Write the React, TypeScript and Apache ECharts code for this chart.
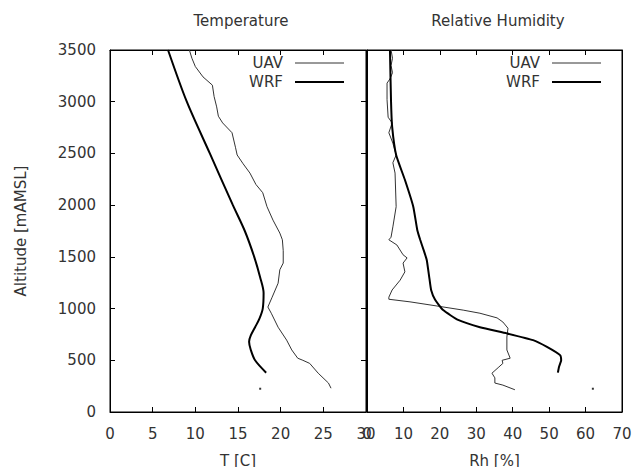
import React, { useEffect, useRef } from "react";
import * as echarts from "echarts";

// Temperature panel: altitude [m AMSL] and temperature [C]
const uavTempAlt = [3500, 3420, 3340, 3240, 3160, 3050, 2950, 2860, 2795, 2700, 2560, 2485, 2400, 2310, 2200, 2120, 1985, 1855, 1730, 1665, 1560, 1440, 1375, 1245, 1110, 1015, 955, 820, 695, 600, 520, 500, 470, 375, 280, 230];
const uavTemp = [9.3, 9.6, 10.0, 10.9, 12.0, 12.2, 12.5, 12.7, 13.2, 14.3, 14.7, 14.9, 15.6, 16.4, 17.1, 17.9, 18.4, 19.1, 19.9, 20.2, 20.3, 20.3, 19.9, 19.7, 19.0, 18.5, 18.9, 19.7, 20.7, 21.3, 22.0, 22.6, 23.4, 24.4, 25.6, 25.9];
const wrfTempAlt = [3500, 3000, 2500, 2000, 1750, 1500, 1300, 1150, 1000, 900, 820, 740, 680, 600, 500, 380];
const wrfTemp = [6.8, 9.0, 11.7, 14.4, 15.8, 16.9, 17.6, 18.0, 17.9, 17.5, 17.0, 16.5, 16.3, 16.5, 17.0, 18.3];
const wrfTempSurface = [[17.6, 225]];

// Relative humidity panel: altitude [m AMSL] and RH [%]
const uavRhAlt = [3500, 3420, 3350, 3280, 3220, 3180, 3020, 2850, 2795, 2700, 2600, 2485, 2410, 2310, 1985, 1790, 1690, 1665, 1615, 1520, 1490, 1440, 1355, 1275, 1180, 1110, 1090, 1065, 1025, 985, 955, 910, 870, 810, 725, 600, 520, 500, 470, 435, 375, 330, 280, 260, 215];
const uavRh = [6.6, 7.0, 6.6, 7.0, 6.3, 5.5, 5.5, 5.8, 6.9, 6.0, 7.1, 8.0, 7.1, 7.7, 8.0, 7.1, 6.6, 6.0, 8.2, 9.9, 11.0, 9.9, 10.4, 9.1, 6.9, 6.0, 6.0, 11.8, 19.2, 26.4, 31.0, 35.7, 37.3, 38.7, 38.4, 38.4, 39.3, 37.1, 37.3, 36.2, 34.3, 35.1, 35.1, 37.3, 40.6];
const wrfRhAlt = [3500, 3000, 2760, 2485, 2245, 1985, 1760, 1665, 1560, 1470, 1300, 1180, 1085, 985, 890, 820, 760, 695, 630, 550, 500, 435, 380];
const wrfRh = [6.3, 6.6, 6.9, 8.0, 10.4, 12.7, 13.8, 14.6, 15.6, 16.4, 17.1, 17.6, 18.7, 20.9, 25.0, 31.0, 38.4, 45.6, 49.4, 53.0, 53.3, 52.7, 52.4];
const wrfRhSurface = [[62, 225]];

const titles = ["Temperature", "Relative Humidity"];
const legendNames = ["UAV", "WRF"];

const pairs = (xs: number[], ys: number[]) => xs.map((x, i) => [x, ys[i]]);

const FONT = "DejaVu Sans";
const TXT = "#333";

export default function App() {
  const ref = useRef<HTMLDivElement>(null);
  useEffect(() => {
    if (!ref.current) return;
    const chart = echarts.init(ref.current, undefined, { renderer: "svg" });
    const grids = [
      { left: 110, top: 50, width: 256, height: 362 },
      { left: 367, top: 50, width: 255, height: 362 },
    ];
    const tick = { show: true, inside: true, length: 5, lineStyle: { color: "#000" } };
    const axisLine = { show: true, onZero: false, lineStyle: { color: "#000", width: 1 } };
    const label = { color: TXT, fontSize: 15, fontFamily: FONT };
    const plain = (v: number) => String(v);
    const xBottom = (g: number, max: number, interval: number, name: string) => ({
      type: "value", gridIndex: g, position: "bottom", min: 0, max, interval,
      axisLine, axisTick: tick, splitLine: { show: false },
      axisLabel: { ...label, margin: 14, formatter: plain },
      name, nameLocation: "middle", nameGap: 41,
      nameTextStyle: { ...label },
    });
    const xTop = (g: number, max: number, interval: number) => ({
      type: "value", gridIndex: g, position: "top", min: 0, max, interval,
      axisLine, axisTick: tick, splitLine: { show: false }, axisLabel: { show: false },
    });
    const legendGraphics: any[] = [];
    const lineEnds = [344, 601];
    grids.forEach((g, gi) => {
      const x2 = lineEnds[gi];
      [0, 1].forEach((k) => {
        const y = 63 + k * 19;
        legendGraphics.push({
          type: "text",
          style: { text: legendNames[k], x: x2 - 61, y, textAlign: "right", textVerticalAlign: "middle", fill: TXT, font: `15px "${FONT}"` },
        });
        legendGraphics.push({
          type: "line",
          shape: { x1: x2 - 49, y1: y, x2, y2: y },
          style: { stroke: k === 0 ? "#333" : "#000", lineWidth: k === 0 ? 1 : 2 },
        });
      });
    });
    chart.setOption({
      animation: false,
      textStyle: { fontFamily: FONT },
      title: [
        { text: titles[0], left: 236, top: 8, textAlign: "center", textStyle: { ...label, fontWeight: "normal" } },
        { text: titles[1], left: 493, top: 8, textAlign: "center", textStyle: { ...label, fontWeight: "normal" } },
      ],
      grid: grids.map((g) => ({
        ...g, show: true, borderColor: "#000", borderWidth: 1, backgroundColor: "transparent",
        containLabel: false, outerBoundsMode: "none",
      })),
      xAxis: [
        xBottom(0, 30, 5, "T [C]"),
        xTop(0, 30, 5),
        xBottom(1, 70, 10, "Rh [%]"),
        xTop(1, 70, 10),
      ],
      yAxis: [
        {
          type: "value", gridIndex: 0, position: "left", min: 0, max: 3500, interval: 500,
          axisLine, axisTick: tick, splitLine: { show: false },
          axisLabel: { ...label, margin: 14, formatter: plain },
          name: "Altitude [mAMSL]", nameLocation: "middle", nameGap: 82, nameRotate: 90,
          nameTextStyle: { ...label },
        },
        {
          type: "value", gridIndex: 0, position: "right", min: 0, max: 3500, interval: 500,
          axisLine, axisTick: tick, splitLine: { show: false }, axisLabel: { show: false },
        },
        {
          type: "value", gridIndex: 1, position: "left", min: 0, max: 3500, interval: 500,
          axisLine, axisTick: { show: false }, splitLine: { show: false }, axisLabel: { show: false },
        },
        {
          type: "value", gridIndex: 1, position: "right", min: 0, max: 3500, interval: 500,
          axisLine, axisTick: { show: false }, splitLine: { show: false }, axisLabel: { show: false },
        },
      ],
      series: [
        {
          name: "UAV", type: "line", xAxisIndex: 0, yAxisIndex: 0, symbol: "none",
          data: pairs(uavTemp, uavTempAlt), lineStyle: { color: "#333", width: 1 }, itemStyle: { color: "#333" },
        },
        {
          name: "WRF", type: "line", xAxisIndex: 0, yAxisIndex: 0, symbol: "none", smooth: 0.3,
          data: pairs(wrfTemp, wrfTempAlt), lineStyle: { color: "#000", width: 2 }, itemStyle: { color: "#000" },
        },
        {
          name: "WRF surface T", type: "scatter", xAxisIndex: 0, yAxisIndex: 0, symbol: "rect", symbolSize: 2,
          data: wrfTempSurface, itemStyle: { color: "#000" },
        },
        {
          name: "UAV", type: "line", xAxisIndex: 2, yAxisIndex: 2, symbol: "none",
          data: pairs(uavRh, uavRhAlt), lineStyle: { color: "#333", width: 1 }, itemStyle: { color: "#333" },
        },
        {
          name: "WRF", type: "line", xAxisIndex: 2, yAxisIndex: 2, symbol: "none", smooth: 0.15,
          data: pairs(wrfRh, wrfRhAlt), lineStyle: { color: "#000", width: 2 }, itemStyle: { color: "#000" },
        },
        {
          name: "WRF surface Rh", type: "scatter", xAxisIndex: 2, yAxisIndex: 2, symbol: "rect", symbolSize: 2,
          data: wrfRhSurface, itemStyle: { color: "#000" },
        },
      ],
      graphic: legendGraphics,
    });
    return () => chart.dispose();
  }, []);
  return (
    <div
      ref={ref}
      style={{ position: "fixed", left: 0, top: 0, width: 632, height: 467, background: "#fff" }}
    />
  );
}
